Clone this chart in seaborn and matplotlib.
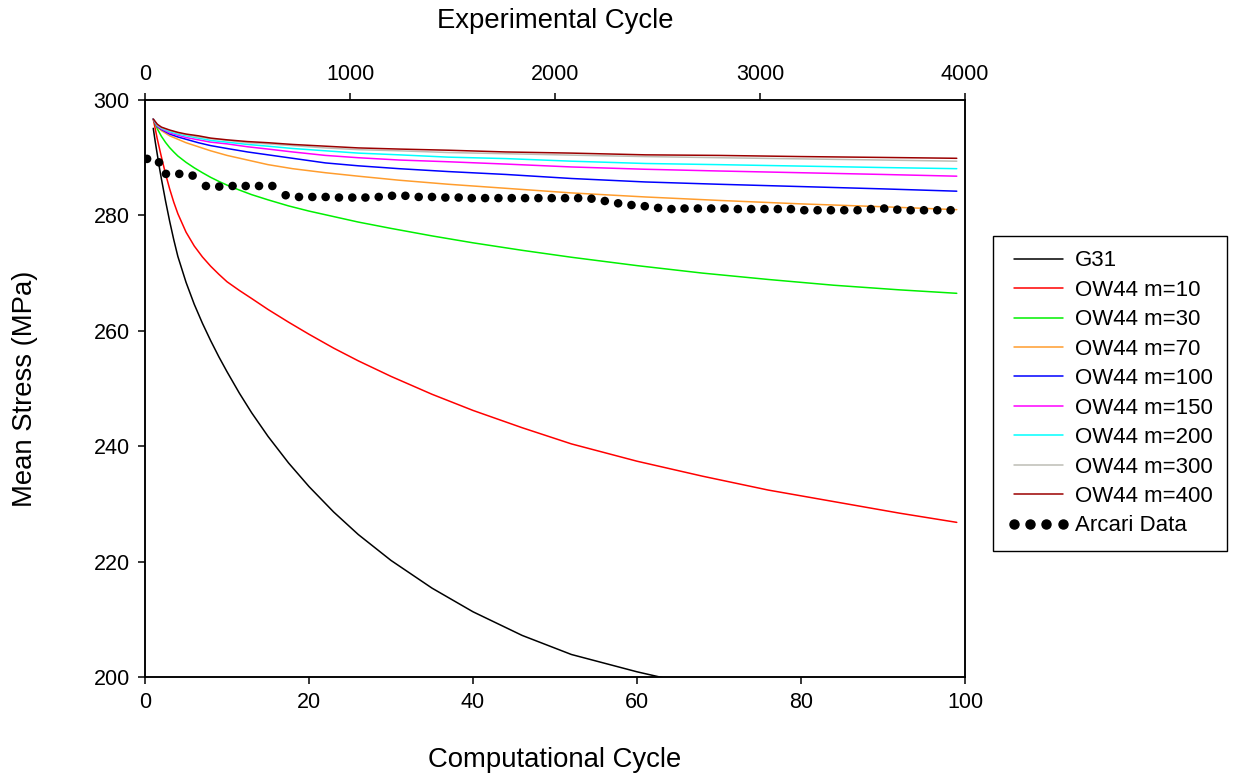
import matplotlib
matplotlib.use("Agg")
import matplotlib.pyplot as plt
import numpy as np
import pandas as pd
import seaborn as sns
from matplotlib.lines import Line2D

# Computational cycles for the slowly varying OW44 curves (m >= 70)
comp_cycle = [1, 1.5, 2, 3, 4, 5, 6.5, 8, 10, 12.5, 15, 18, 22, 26, 31, 37,
              44, 52, 61, 70, 80, 90, 99]
# Finer sampling for the steep curves (OW44 m=10, m=30)
comp_cycle_fine = [1, 1.5, 2, 2.5, 3, 3.5, 4, 5, 6, 7, 8, 9, 10, 11.5, 13, 15,
                   17.5, 20, 23, 26, 30, 35, 40, 46, 52, 60, 68, 76, 84, 92, 99]

# G31 model (falls below the plotted range after ~62 cycles)
g31_cycle = [1, 1.25, 1.5, 1.75, 2, 2.5, 3, 3.5, 4, 5, 6, 7, 8, 9, 10, 11.5,
             13, 15, 17.5, 20, 23, 26, 30, 35, 40, 46, 52, 60, 64]
g31_stress = [295.1, 292.7, 290.5, 288.3, 286.3, 282.5, 279.0, 275.8, 272.9,
              268.4, 264.6, 261.3, 258.3, 255.5, 252.9, 249.2, 245.8, 241.7,
              237.1, 233.0, 228.6, 224.7, 220.2, 215.4, 211.3, 207.2, 203.9,
              200.9, 199.6]

# OW44 model, mean stress (MPa) for each m value
ow44_m10 = [296.7, 293.2, 290.1, 287.2, 284.6, 282.3, 280.3, 277.1, 274.7,
            272.8, 271.2, 269.8, 268.5, 267.0, 265.6, 263.7, 261.5, 259.4,
            257.0, 254.8, 252.1, 249.0, 246.2, 243.2, 240.4, 237.4, 234.8,
            232.4, 230.4, 228.4, 226.8]
ow44_m30 = [296.7, 295.0, 293.7, 292.65, 291.75, 291.0, 290.3, 289.2, 288.25,
            287.4, 286.6, 285.9, 285.25, 284.4, 283.6, 282.7, 281.65, 280.75,
            279.8, 278.85, 277.75, 276.45, 275.25, 273.95, 272.75, 271.3,
            270.0, 268.9, 267.9, 267.1, 266.5]
ow44_m70 = [296.7, 295.3, 294.7, 293.8, 293.2, 292.6, 291.9, 291.2, 290.4,
            289.6, 288.8, 288.1, 287.4, 286.8, 286.1, 285.4, 284.7, 283.9,
            283.2, 282.6, 282.0, 281.5, 281.0]
ow44_m100 = [296.7, 295.4, 294.9, 294.1, 293.6, 293.2, 292.6, 292.1, 291.6,
             291.0, 290.5, 289.9, 289.1, 288.6, 288.1, 287.6, 287.1, 286.4,
             285.8, 285.4, 285.0, 284.6, 284.2]
ow44_m150 = [296.7, 295.5, 295.0, 294.3, 293.9, 293.5, 293.1, 292.7, 292.4,
             291.9, 291.5, 291.0, 290.4, 290.0, 289.6, 289.3, 288.9, 288.4,
             288.0, 287.7, 287.4, 287.1, 286.8]
ow44_m200 = [296.7, 295.6, 295.1, 294.5, 294.1, 293.8, 293.4, 293.0, 292.7,
             292.3, 292.0, 291.6, 291.2, 290.8, 290.5, 290.1, 289.85, 289.4,
             289.0, 288.8, 288.55, 288.3, 288.1]
ow44_m300 = [296.7, 295.7, 295.2, 294.7, 294.3, 294.0, 293.6, 293.3, 293.0,
             292.6, 292.4, 292.1, 291.7, 291.4, 291.2, 290.9, 290.7, 290.45,
             290.2, 290.0, 289.8, 289.6, 289.4]
ow44_m400 = [296.7, 295.8, 295.3, 294.8, 294.4, 294.1, 293.8, 293.4, 293.1,
             292.8, 292.6, 292.3, 292.0, 291.7, 291.5, 291.3, 291.0, 290.8,
             290.5, 290.4, 290.2, 290.05, 289.9]

# Arcari experimental data (experimental cycles, mean stress in MPa)
arcari_cycle = [10, 68, 102, 167, 232, 297, 362, 427, 491, 556, 621, 686, 751,
                816, 881, 946, 1011, 1075, 1140, 1205, 1270, 1335, 1400, 1465,
                1530, 1594, 1659, 1724, 1789, 1854, 1919, 1984, 2049, 2113,
                2178, 2243, 2308, 2373, 2438, 2503, 2568, 2632, 2697, 2762,
                2827, 2892, 2957, 3022, 3087, 3151, 3216, 3281, 3346, 3411,
                3476, 3541, 3606, 3670, 3735, 3800, 3865, 3930]
arcari_stress = [289.8, 289.2, 287.2, 287.2, 286.9, 285.1, 285.0, 285.1, 285.1,
                 285.1, 285.1, 283.5, 283.2, 283.2, 283.2, 283.1, 283.1, 283.1,
                 283.2, 283.4, 283.4, 283.2, 283.2, 283.1, 283.1, 283.0, 283.0,
                 283.0, 283.0, 283.0, 283.0, 283.0, 283.0, 283.0, 282.9, 282.5,
                 282.1, 281.8, 281.6, 281.3, 281.1, 281.2, 281.2, 281.2, 281.2,
                 281.1, 281.1, 281.1, 281.1, 281.1, 280.9, 280.9, 280.9, 280.9,
                 280.9, 281.1, 281.2, 281.0, 280.9, 280.9, 280.9, 280.9]

model_labels = ["G31", "OW44 m=10", "OW44 m=30", "OW44 m=70", "OW44 m=100",
                "OW44 m=150", "OW44 m=200", "OW44 m=300", "OW44 m=400"]
model_colors = ["#000000", "#ff0000", "#00f000", "#ff9d2e", "#0000ff",
                "#ff00ff", "#00ffff", "#bdbdb5", "#9b0000"]

model_cycles = [g31_cycle, comp_cycle_fine, comp_cycle_fine] + [comp_cycle] * 6
model_values = [g31_stress, ow44_m10, ow44_m30, ow44_m70, ow44_m100,
                ow44_m150, ow44_m200, ow44_m300, ow44_m400]

df = pd.concat(
    [pd.DataFrame({"cycle": cyc, "stress": val, "model": lab})
     for lab, cyc, val in zip(model_labels, model_cycles, model_values)],
    ignore_index=True)

sns.set_style("ticks")
plt.rcParams["font.family"] = ["Liberation Sans", "DejaVu Sans"]
for key in ("text.color", "axes.labelcolor", "xtick.color", "ytick.color",
            "axes.edgecolor"):
    plt.rcParams[key] = "black"

fig = plt.figure(figsize=(12.44, 7.73), dpi=100)
ax = fig.add_axes([0.1166, 0.1242, 0.6591, 0.7464])

palette = dict(zip(model_labels, model_colors))
sns.lineplot(data=df, x="cycle", y="stress", hue="model",
             hue_order=model_labels, palette=palette, estimator=None,
             sort=False, linewidth=1.1, legend=False, ax=ax)

ax.set_xlim(0, 100)
ax.set_ylim(200, 300)
ax.set_xticks([0, 20, 40, 60, 80, 100])
ax.set_yticks([200, 220, 240, 260, 280, 300])
ax.set_xlabel("Computational Cycle", fontsize=19.8, labelpad=24)
ax.set_ylabel("Mean Stress (MPa)", fontsize=19.8, labelpad=40)
ax.tick_params(axis="both", direction="out", length=5, width=1.1,
               labelsize=15.5, pad=6)
ax.tick_params(axis="x", top=False)
ax.tick_params(axis="y", right=False)

ax2 = ax.twiny()
sns.scatterplot(x=arcari_cycle, y=arcari_stress, ax=ax2, color="black",
                s=38, edgecolor="none", legend=False, zorder=5)
ax2.set_xlim(0, 4000)
ax2.set_xticks([0, 1000, 2000, 3000, 4000])
ax2.set_xlabel("Experimental Cycle", fontsize=19.8, labelpad=26)
ax2.tick_params(axis="x", direction="out", length=5, width=1.1,
                labelsize=15.5, pad=6)
ax.set_ylim(200, 300)

for a in (ax, ax2):
    for sp in a.spines.values():
        sp.set_linewidth(1.1)
        sp.set_color("black")

handles = [Line2D([], [], color=c, linewidth=1.1) for c in model_colors]
handles.append(Line2D([], [], linestyle="none", marker="o", color="black",
                      markersize=6.5))
labels = model_labels + ["Arcari Data"]
leg = fig.legend(handles, labels, loc="upper left",
                 bbox_to_anchor=(0.798, 0.6947), frameon=True,
                 fancybox=False, edgecolor="black", framealpha=1,
                 fontsize=16, numpoints=4, handlelength=2.8,
                 handletextpad=0.25, labelspacing=0.38, borderpad=0.65,
                 borderaxespad=0)
leg.get_frame().set_linewidth(1.0)

fig.savefig("out.png", dpi=100)
